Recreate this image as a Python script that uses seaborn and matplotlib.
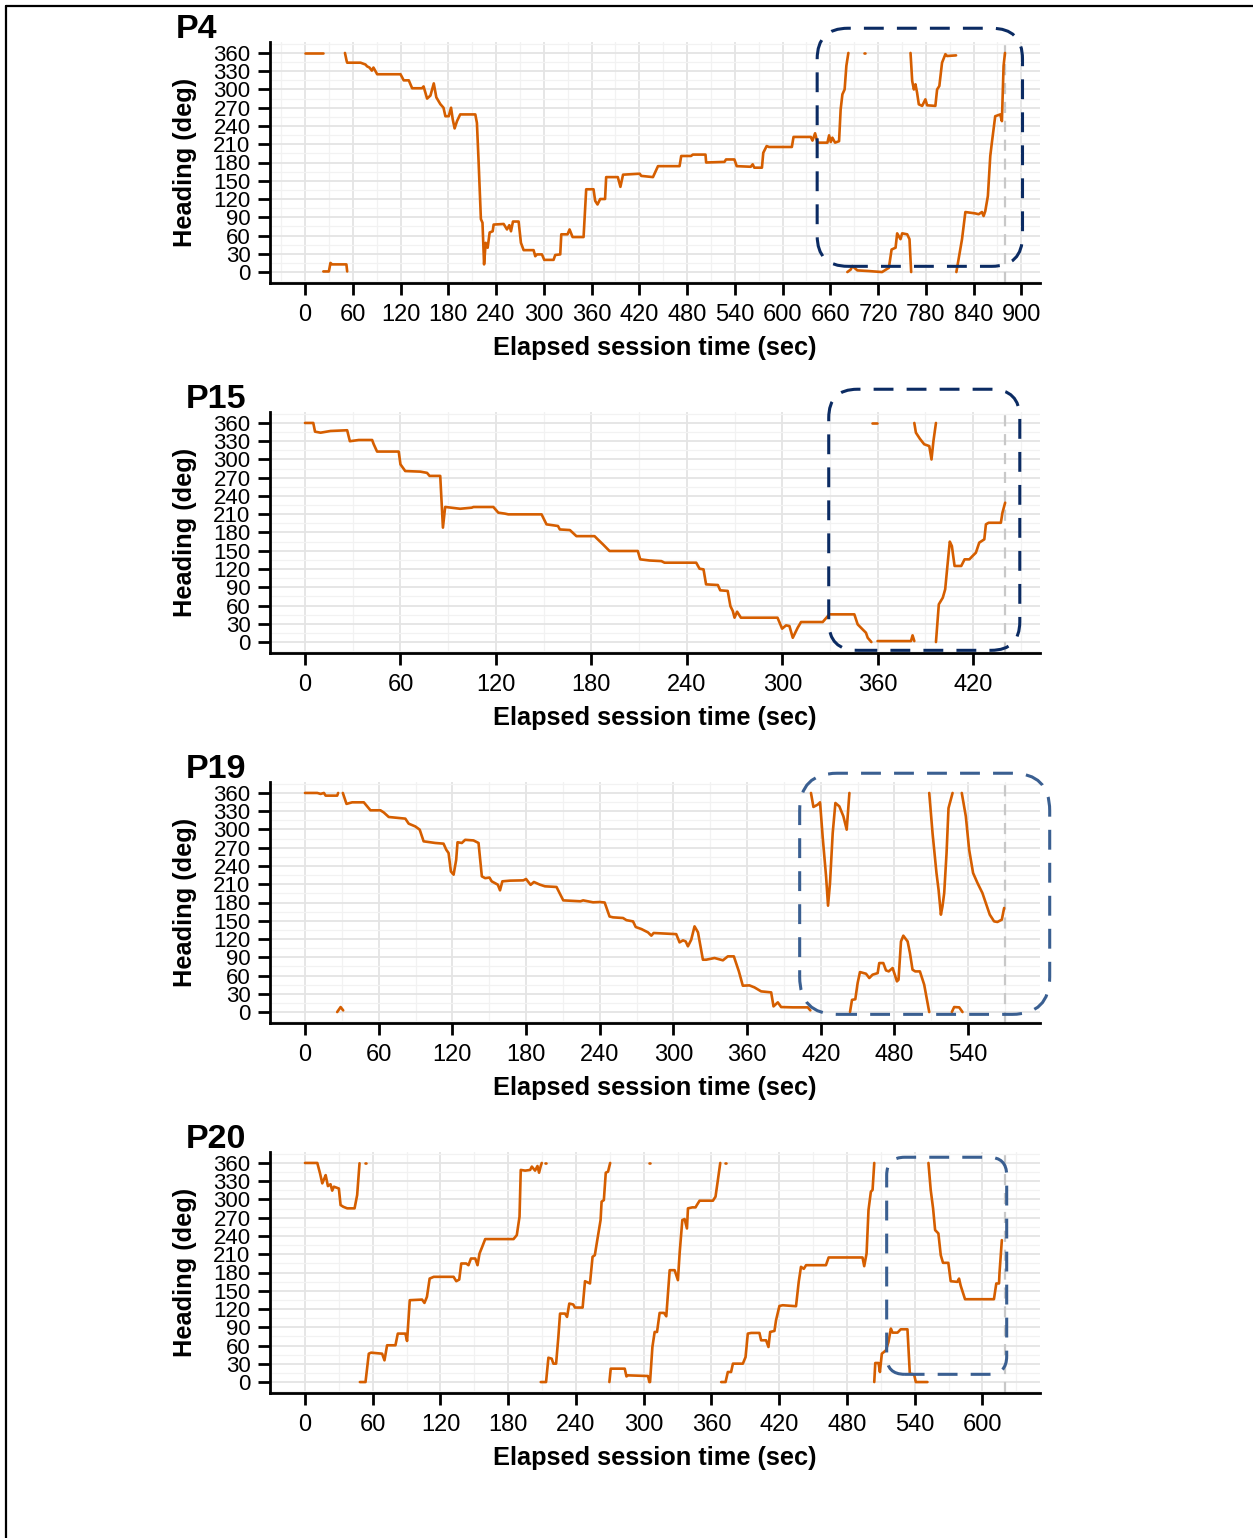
import numpy as np
import pandas as pd
import matplotlib
matplotlib.use("Agg")
import matplotlib.pyplot as plt
from matplotlib.patches import FancyBboxPatch
from matplotlib.lines import Line2D
from matplotlib.ticker import MultipleLocator
import seaborn as sns

NaN = np.nan  # breaks the trace where the heading wraps between 360 and 0

# ---------------- heading traces (elapsed sec, heading deg) ----------------
p4_time = [0, 23, NaN,
           23, 30, 32, 34, 52, 53, NaN,
           50.2, 52.3, 53, 69.8, 76, 78, 81, 84, 86, 88.6, 90.7, 95, 120, 124, 130.4, 134.6, 147, 149,
           153.4, 157.6, 161.8, 165, 170, 174, 176.4, 180.6, 183.5, 185.6, 188, 191, 195, 214, 216, 218,
           221, 223, 225, 227, 229.5, 232, 235.8, 237, 249.6, 253.8, 256.7, 258.8, 261.3, 268.4, 271.3,
           274.7, 287.2, 289.3, 291.4, 297.7, 300.6, 312.3, 314.4, 320.7, 322, 329.9, 332.4, 336.2, 350,
           353.3, 362.5, 364.6, 367.5, 370.9, 377, 378.4, 393, 396.3, 399.6, 420.5, 422.5, 437.2, 443.5,
           470.6, 472.7, 485, 487.3, 503.2, 504, 527, 529, 539.5, 542.4, 560, 562.5, 564.5, 574.1, 575.8,
           580, 583, 611.7, 613.8, 635.5, 637.6, 640.9, 643.9, 656.4, 658.5, 660.6, 662.6, 666, 671, 673,
           675.2, 678, 680.2, 682.7, NaN,
           702.5, 703.8, NaN,
           681.4, 685.6, 687.7, 694, 708.6, 725, 733.6, 737, 742, 744, 748.2, 750.3, 756.6, 759.5, 761.6, NaN,
           760.8, 762.9, 765, 767, 769, 771.2, 775.4, 779.5, 781.6, 792, 794.2, 797, 800.4, 804.6, 806.7, 818, NaN,
           818.4, 825.5, 829.7, 842, 846.4, 850.5, 852.6, 854.7, 858, 861, 863, 867.2, 873.5, 875.6, 877.7, 879.5]
p4_heading = [360, 360, NaN,
              1, 1, 15, 12.6, 12.6, 1, NaN,
              360, 347, 344, 344, 341, 338, 336, 331, 336, 330, 325, 325, 325, 315, 315, 302, 302, 305,
              285, 290, 310, 287, 276, 270, 256, 256, 270, 251, 236, 248, 259, 259, 245, 185,
              87, 81, 12.6, 48, 40, 65, 67, 78, 79, 70, 77, 67, 83, 83, 48,
              36, 36, 26, 29, 29, 20, 20, 28, 29, 62, 62, 70, 57.5, 57.5,
              136, 136, 117, 111, 120, 120, 156, 156, 140, 160, 161.6, 158, 156, 174,
              174, 190.7, 190.7, 193, 193, 180, 181, 185, 185, 174, 173, 177, 171.5, 171.5, 196,
              207, 205.5, 205.5, 222, 222, 216, 228, 212.6, 212.6, 224.6, 213.7, 220.8, 212.6, 215, 267,
              292, 300, 339, 360, NaN,
              360, 360, NaN,
              0, 4, 9.9, 2.7, 1.6, 0, 7, 37, 40, 63.6, 54, 63.6, 62, 54, 0, NaN,
              360, 314, 300, 308.5, 295, 275.6, 273, 283.8, 274, 273, 300, 305.7, 344, 358, 355, 356, NaN,
              0, 54, 98.6, 96.4, 95, 98.6, 92, 100, 125, 190.7, 212.6, 256, 259, 248, 338.6, 360]

p15_time = [0, 5.2, 6.3, 9.8, 16, 26.5, 28.2, 33.8, 42.2, 43.2, 45.3, 58.9, 60, 63, 72.5, 76.7, 78.3, 85,
            86.7, 88.1, 97.5, 104.8, 105.9, 118.4, 121.5, 125.7, 127.8, 148.7, 151.8, 159, 160.2, 166.5,
            170.6, 182, 184, 187.3, 191.4, 209.2, 210.7, 216.6, 224, 226, 245.9, 248, 250.5, 252.1, 259.5,
            261, 265.7, 267.4, 268.9, 270, 271.6, 274, 297, 299.9, 302.4, 304.5, 306.6, 309.7, 311.8, 325.4,
            329.6, 345.3, 347.4, 350.5, 352.6, 353.7, 356, NaN,
            356.7, 359.6, NaN,
            359.9, 380.9, 381.9, 383, NaN,
            383, 384, 386.5, 389.2, 392.4, 393.8, 395, 396.6, NaN,
            396.6, 398.4, 400.9, 402.4, 403.8, 405.3, 406.6, 408.3, 412.5, 414.6, 417.6, 419.6, 421.7,
            423.8, 427, 428, 429.7, 437.4, 438.4, 440.1]
p15_heading = [360, 360, 345.7, 344, 346.8, 348, 330, 332, 332, 325, 313, 313, 292, 281, 280, 278, 273, 273,
               188, 222, 219, 220.8, 221.9, 221.9, 212.6, 211, 209.8, 209.8, 193.4, 190.7, 185, 184,
               174, 174, 168.8, 160.5, 149.6, 149.6, 135.9, 134, 133, 130.4, 130.4, 120.5, 119.4, 94.8, 93.7,
               85, 84, 59, 51, 40, 49.9, 40, 40, 22, 27.4, 26.3, 7, 23.6, 32.9, 32.9,
               45.5, 45.5, 29, 20.8, 15.3, 7, 0, NaN,
               359.5, 359.5, NaN,
               1.6, 1.6, 11, 1.6, NaN,
               360, 344, 334, 325, 322, 300, 330, 360, NaN,
               0, 62, 72.9, 86.6, 125, 165, 157.8, 125, 125, 135.9, 135.9, 141.4, 146.8,
               163.3, 168.8, 193.4, 196, 196, 212.6, 229]

p19_time = [0, 10, 12.7, 15.4, 16.8, 26.2, 27, NaN,
            26.2, 29, 31.1, NaN,
            30.8, 33.8, 38.4, 47.9, 53.3, 61.4, 64.1, 68.2, 81.7, 84.4, 89.8, 93.4, 96.6, 106.1, 112.8, 115,
            116.9, 118.8, 121, 123.1, 124.2, 127.7, 130.4, 137.2, 141.3, 144, 146.7, 150.2, 152, 157, 158.8,
            160.7, 166.9, 177.8, 180, 183.7, 186.4, 191.3, 195.4, 204.8, 210.3, 224.3, 226.5, 234.6, 240,
            244, 248, 250.8, 259, 261.7, 267.1, 269.3, 273.9, 279.3, 282, 283.9, 302.3, 305, 307.8, 310,
            311.8, 314.5, 317.2, 320, 324, 326.7, 333.5, 340.3, 344.3, 349.2, 353.3, 356.5, 361.9, 366,
            371.4, 379.6, 381.5, 385, 387.7, 397.2, 409.4, 411.5, NaN,
            412, 414, 417.5, 419.4, 421.6, 424.3, 425.9, 427.5, 429.7, 431.9, 435.1, 438.4, 441.1, 443.3, NaN,
            443.8, 445.4, 448.1, 450, 451.9, 456.8, 459.5, 462.2, 466.3, 467.6, 470.9, 473.1, 475.3, 478.5,
            482, 483.3, 485.3, 487.2, 490.7, 492.6, 494.7, 496.9, 500.7, 504.2, 508.3, NaN,
            508.3, 511, 514.2, 515.9, 517.8, 519.1, 520.5, 522.4, 524, 527.3, NaN,
            526.7, 528.6, 532.7, 535.4, NaN,
            534.8, 538.1, 540.8, 544, 547.6, 551.6, 554.4, 557.6, 561.1, 563.8, 567.4, 569.3]
p19_heading = [360, 360, 358.4, 360, 355.6, 355.6, 360, NaN,
               0, 8.2, 2.7, NaN,
               360, 342, 344.6, 344.6, 331.5, 331.5, 328, 320.5, 317.8, 309.6, 305, 299.7, 280.5, 277.8, 276.7, 266.8,
               261.3, 231, 225.7, 250, 279, 277.8, 283, 282, 277.8, 223, 220, 221, 214.8, 209.3, 200,
               214.8, 215.9, 216.4, 218.6, 209, 213.7, 209.3, 206.6, 205.5, 183.5, 182, 183.5, 180.3, 180.8,
               180, 157, 155.6, 154.5, 151, 149, 139.7, 136.4, 130.9, 125.5, 129.9, 128, 114.5, 117.8, 116,
               108, 118.9, 140.8, 131, 86, 86, 88.8, 85, 91.5, 91.5, 66.8, 43.3, 43.8, 40.5,
               34, 32.3, 9.3, 15.9, 8.2, 7.7, 7.7, 2.7, NaN,
               360, 337, 340.8, 344.6, 286, 223, 174.8, 212, 294, 343.5, 338, 321.6, 299.7, 360, NaN,
               0, 20, 21, 47.7, 65.7, 63, 55.9, 61.4, 64, 80.5, 80.5, 68.5, 66.8, 72.3,
               50.4, 53, 116, 125.5, 116, 97, 69.6, 66.8, 66.8, 45, 0, NaN,
               360, 294, 228.5, 201, 160, 173.7, 195.6, 261, 335, 360, NaN,
               0, 8.2, 7.7, 0, NaN,
               360, 321.6, 266.8, 228.5, 212, 195.6, 179, 160, 149, 148, 151.8, 171]

p20_time = [0, 10.9, 13.3, 15.3, 16.8, 18.3, 20.3, 22.6, 24.1, 25.6, 30, 31.5, 33.9, 37.4, 43.9, 46.2, 48.3, NaN,
            53.2, 54.2, NaN,
            48.6, 53.6, 56.5, 58.6, 68.3, 70.4, 72.7, 80.1, 82.2, 88.9, 90.4, 92.8, 103.7, 105.8, 108, 110.4,
            114, 131.6, 134, 136.6, 138.4, 142.8, 144.8, 147, 150.8, 152.8, 154.6, 156.7, 159.6, 184.7, 187.6,
            190, 191.1, 195, 199.4, 200.9, 203.8, 205.9, 207.3, 208.8, 209.7, NaN,
            212.7, 213.7, NaN,
            208.8, 213.5, 215.6, 218.5, 220, 222.4, 224.4, 225.9, 230.3, 232.1, 234.1, 237.6, 239.1, 245.9,
            248, 252.4, 254.7, 256.7, 259.6, 261.8, 262.7, 264.7, 266.4, 268.4, 270.3, NaN,
            269.6, 270.8, 283.2, 284.7, 286.2, 303.8, 305, NaN,
            304.5, 305.8, NaN,
            305.6, 307.7, 309.7, 311.8, 314.1, 318, 320, 323, 327.4, 330.3, 331.8, 334.2, 336.2, 338.3, 339.2,
            343, 345.9, 347.1, 349.5, 361.3, 363.6, 365.7, 367.8, NaN,
            372, 373, NaN,
            368.6, 372.5, 374.5, 377.4, 379, 387.8, 390.2, 392.2, 395.2, 402.5, 404, 408.4, 410.5, 412, 415.8,
            417.2, 420.2, 423.1, 434.9, 437.3, 439.3, 441.8, 443.8, 461.4, 463.8, 493.8, 495.3, 497.4, 499.1,
            501.2, 502.7, 504.2, NaN,
            504.2, 505.1, 508, 509.2, 510.9, 514.5, 516.8, 518.9, 520.4, 524.8, 527.7, 533.6, 535.7, 539.5,
            541, 551.3, NaN,
            552.2, 554.2, 556.3, 558.1, 561, 563.1, 565.1, 569.8, 571.9, 577.8, 579.3, 580.8, 584.6, 610.2,
            612.3, 614.7, 615.1, 617.2]
p20_heading = [360, 360, 343, 326.5, 333, 340, 322, 325, 314.5, 321, 318, 290.9, 288, 285.4, 285.4, 307.3, 359.5, NaN,
               360, 360, NaN,
               0, 0, 46.6, 48.3, 46.6, 35.7, 60.4, 60.4, 79.6, 79.6, 67.5, 134.5, 135.5, 130, 140, 170,
               172.9, 172.9, 165.7, 168.4, 194.8, 194.8, 192, 203, 203, 192, 211.3, 221, 234.9, 234.9, 241.5,
               271.7, 348.5, 347.4, 348.5, 354, 347.4, 355, 344, 355, 360, NaN,
               360, 360, NaN,
               0, 0, 40, 38.4, 30.2, 30.2, 74, 112.5, 112.5, 107, 129, 127.4, 122.4, 122.4,
               165.7, 162, 205.8, 208.5, 241.5, 266.2, 296.4, 299, 344, 345.7, 360, NaN,
               0, 22, 22, 9.3, 11, 9.9, 0, NaN,
               360, 360, NaN,
               0, 57.6, 82.3, 82.3, 113.6, 113.6, 108, 183.8, 183.8, 167.4, 211.3, 266.2, 267.8, 252.4, 285.4,
               287, 287, 290.9, 298, 298, 304.6, 332, 360, NaN,
               359.5, 359.5, NaN,
               0, 0, 16.5, 16.5, 30.2, 30.2, 41, 79.6, 80.7, 80.7, 68.6, 68.6, 57.6, 82.3, 84,
               101.5, 125, 126.2, 124.6, 164.6, 189.3, 186, 192, 192, 204.7, 204.7, 190.4, 211.3, 282.6,
               312.8, 315.6, 360, NaN,
               0, 31.3, 31.3, 16.5, 46.6, 52, 65.9, 87.8, 81.2, 81.2, 86.7, 86.7, 13.7, 12.6,
               0, 0, NaN,
               360, 315.6, 285.4, 249.7, 244.2, 208.5, 195.9, 195.9, 165.7, 164.6, 170, 158, 136.1, 136.1,
               162, 162, 178.4, 233.2]

participants = ["P4", "P15", "P19", "P20"]
times = [p4_time, p15_time, p19_time, p20_time]
headings = [p4_heading, p15_heading, p19_heading, p20_heading]
session_end = [879.5, 440, 570, 620]                      # sec
window_time = [(643.5, 901.5), (329.2, 449.3), (402.8, 606.4), (515.2, 621.5)]
window_heading = [(9.4, 400.6), (-13.6, 415.4), (-3.8, 392.4), (12.7, 369.4)]

# ---------------- styling ----------------
LINE = "#D55E00"
WINDOW_COLORS = ["#0B2B63", "#0B2B63", "#3A5F91", "#3A5F91"]
TITLE_X = [-0.122, -0.109, -0.109, -0.109]

sns.set_theme(style="white")
plt.rcParams["font.family"] = ["Liberation Sans", "DejaVu Sans"]

W, H = 1253, 1538
fig = plt.figure(figsize=(W / 100, H / 100), dpi=100)
fig.patch.set_facecolor("white")

for k, name in enumerate(participants):
    bottom_px = 283 + 370 * k
    ax = fig.add_axes([270 / W, (H - bottom_px) / H, 770 / W, 241 / H])

    df = pd.DataFrame({"t": times[k], "hdg": headings[k]})
    df["seg"] = df["hdg"].isna().cumsum()
    df = df.dropna()

    tmax = session_end[k]
    ax.set_xlim(-0.05 * tmax, 1.05 * tmax)
    ax.set_ylim(-18, 378)

    ax.xaxis.set_major_locator(MultipleLocator(60))
    ax.xaxis.set_minor_locator(MultipleLocator(30))
    ax.yaxis.set_major_locator(MultipleLocator(30))
    ax.yaxis.set_minor_locator(MultipleLocator(15))
    ax.grid(which="major", color="#E4E4E4", lw=1.3)
    ax.grid(which="minor", color="#F2F2F2", lw=0.9)
    ax.set_axisbelow(True)

    ax.axvline(tmax, color="#C8C8C8", lw=1.6, ls=(0, (5, 3.5)), zorder=1.5)

    sns.lineplot(data=df, x="t", y="hdg", units="seg", estimator=None, sort=False,
                 color=LINE, lw=1.9, ax=ax, legend=False, zorder=2)

    # restore limits after seaborn autoscaling
    ax.set_xlim(-0.05 * tmax, 1.05 * tmax)
    ax.set_ylim(-18, 378)

    for s in ["top", "right"]:
        ax.spines[s].set_visible(False)
    for s in ["left", "bottom"]:
        ax.spines[s].set_color("black")
        ax.spines[s].set_linewidth(2.0)

    ax.tick_params(which="major", direction="out", length=8.5, width=2.0, color="black",
                   labelcolor="black", left=True, bottom=True)
    ax.tick_params(axis="x", which="major", pad=6.5, labelsize=17)
    ax.tick_params(axis="y", which="major", pad=5.5, labelsize=16)
    ax.tick_params(which="minor", length=0)

    ax.set_xlabel("Elapsed session time (sec)", fontsize=18.3, fontweight="bold", color="black")
    ax.set_ylabel("Heading (deg)", fontsize=18.3, fontweight="bold", color="black")
    ax.xaxis.label.set_va("center")
    ax.xaxis.set_label_coords(0.5, -0.271)
    ax.yaxis.label.set_va("center")
    ax.yaxis.set_label_coords(-0.111, 0.5)

    ax.text(TITLE_X[k], 1.0166, name, transform=ax.transAxes, fontsize=24.5,
            fontweight="bold", ha="left", va="baseline", color="black")

    # highlighted window, drawn as a rounded dashed frame
    (t0, t1), (h0, h1) = window_time[k], window_heading[k]
    p0, p1 = ax.transData.transform([(t0, h0), (t1, h1)])
    i0, i1 = fig.dpi_scale_trans.inverted().transform([p0, p1])
    w_in, h_in = i1[0] - i0[0], i1[1] - i0[1]
    box = FancyBboxPatch((i0[0], i0[1]), w_in, h_in,
                         boxstyle=f"round,pad=0,rounding_size={0.15 * w_in:.3f}",
                         transform=fig.dpi_scale_trans, fill=False,
                         ec=WINDOW_COLORS[k], lw=2.2, ls=(0, (6.5, 4.3)), clip_on=False, zorder=5)
    fig.add_artist(box)

# outer frame (top and left edges)
fig.add_artist(Line2D([6 / W, 1], [1 - 5.7 / H, 1 - 5.7 / H], transform=fig.transFigure,
                      color="black", lw=1.6))
fig.add_artist(Line2D([6 / W, 6 / W], [0, 1 - 5.7 / H], transform=fig.transFigure,
                      color="black", lw=1.6))

fig.savefig("out.png", dpi=100, facecolor="white")
